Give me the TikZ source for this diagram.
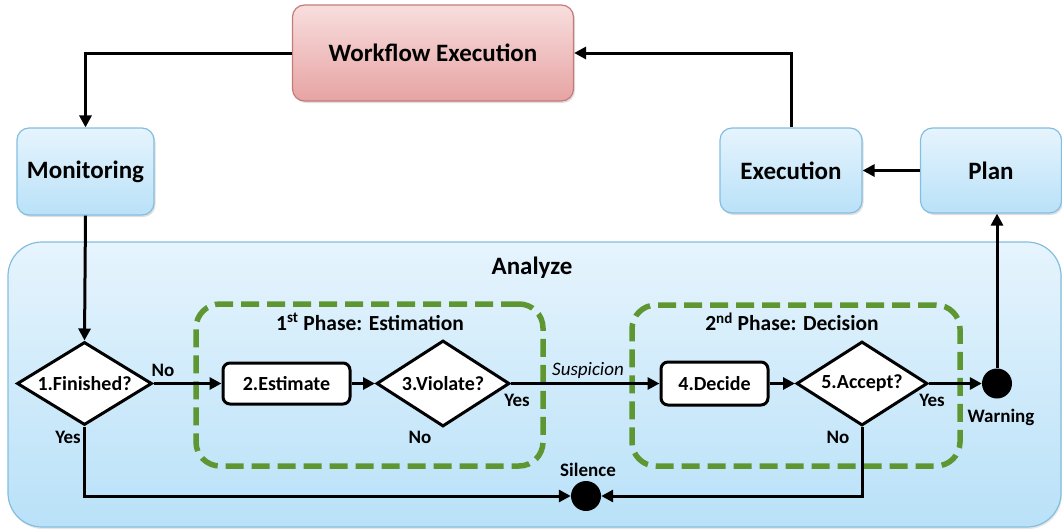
\documentclass[tikz,border=0pt]{standalone}
\usepackage{fontspec}
\setmainfont{Carlito}
\usetikzlibrary{arrows.meta,shapes.geometric,shadows}
\definecolor{bluetop}{HTML}{E6F4FD}
\definecolor{bluebot}{HTML}{B9E1F8}
\definecolor{blueline}{HTML}{84BEDF}
\definecolor{pinktop}{HTML}{F8DEDE}
\definecolor{pinkbot}{HTML}{E7A3A3}
\definecolor{pinkline}{HTML}{C67A7A}
\definecolor{phasegreen}{HTML}{5E9732}
\begin{document}
\begin{tikzpicture}[x=1pt,y=-1pt,
  bigfont/.style={font=\fontsize{25}{30}\selectfont\bfseries},
  bluebox/.style={rectangle, rounded corners=12pt, draw=blueline, line width=1.2pt,
    top color=bluetop, bottom color=bluebot, bigfont,
    drop shadow={opacity=0.25, shadow xshift=1.5pt, shadow yshift=-2pt}},
  pinkbox/.style={rectangle, rounded corners=12pt, draw=pinkline, line width=1.2pt,
    top color=pinktop, bottom color=pinkbot, bigfont,
    drop shadow={opacity=0.25, shadow xshift=1.5pt, shadow yshift=-2pt}},
  areabox/.style={rectangle, rounded corners=34pt, draw=blueline, line width=1.2pt,
    top color=bluetop, bottom color=bluebot,
    drop shadow={opacity=0.2, shadow xshift=1pt, shadow yshift=-2pt}},
  phasebox/.style={rectangle, rounded corners=24pt, draw=phasegreen, line width=5.5pt,
    dash pattern=on 18pt off 8pt},
  stepbox/.style={rectangle, rounded corners=7pt, draw=black, fill=white, line width=3pt,
    inner sep=0pt, font=\fontsize{20}{24}\selectfont\bfseries},
  decision/.style={diamond, draw=black, fill=white, line width=3pt, inner sep=0pt,
    aspect=1.65, font=\fontsize{20}{24}\selectfont\bfseries},
  dot/.style={circle, fill=black, inner sep=0pt, minimum size=30pt},
  lbl/.style={font=\fontsize{19}{23}\selectfont\bfseries, inner sep=0pt},
  titlelbl/.style={font=\fontsize{21.5}{26}\selectfont\bfseries, inner sep=0pt},
  conn/.style={line width=3pt, -{Triangle[length=12pt,width=12pt]}},
]
\useasboundingbox (0,0) rectangle (1062,530);

% big analyze area
\node[areabox, minimum width=1053pt, minimum height=285pt] (an) at (534.5,384.5) {};
\node[bigfont, inner sep=0pt] (anl) at (532,268) {Analyze};

% top nodes
\node[pinkbox, minimum width=281pt, minimum height=96pt] (wf) at (433,53) {Workflow Execution};
\node[bluebox, minimum width=137pt, minimum height=87pt] (mon) at (85.5,171.5) {Monitoring};
\node[bluebox, minimum width=142pt, minimum height=85pt] (exe) at (791,170.5) {Execution};
\node[bluebox, minimum width=141pt, minimum height=85pt] (plan) at (991,170.5) {Plan};

% phase boxes
\node[phasebox, minimum width=347pt, minimum height=162pt] (p1) at (369.5,385) {};
\node[phasebox, minimum width=328pt, minimum height=161pt] (p2) at (796,385.5) {};
\node[titlelbl] (p1t) at (370,322) {1\textsuperscript{st} Phase: Estimation};
\node[titlelbl] (p2t) at (792,322) {2\textsuperscript{nd} Phase: Decision};

% flow nodes
\node[decision, minimum width=135pt, minimum height=83pt] (fin) at (84.5,383.5) {1.Finished?};
\node[stepbox, minimum width=127pt, minimum height=41pt] (est) at (286.5,383.5) {2.Estimate};
\node[decision, minimum width=133pt, minimum height=86pt] (vio) at (443,383.5) {3.Violate?};
\node[stepbox, minimum width=107pt, minimum height=43pt] (dec) at (714.5,383.5) {4.Decide};
\node[decision, minimum width=131pt, minimum height=84pt] (acc) at (862,383.5) {5.Accept?};
\node[dot] (warn) at (997,383.5) {};
\node[dot] (sil) at (586,496) {};

% labels
\node[lbl] (l1) at (163,370) {No};
\node[lbl] (l2) at (68,437) {Yes};
\node[lbl] (l3) at (517,400) {Yes};
\node[lbl] (l4) at (420,437) {No};
\node[lbl] (l5) at (932,400) {Yes};
\node[lbl] (l6) at (838,437) {No};
\node[lbl] (l7) at (1001,417) {Warning};
\node[lbl] (l8) at (588,470) {Silence};
\node[font=\fontsize{19}{23}\selectfont\itshape, inner sep=0pt] (l9) at (588,370) {Suspicion};

% connectors
\draw[conn] (wf.west) -| (mon.north);
\draw[conn] (mon.south) -- (fin.north);
\draw[conn] (fin.east) -- (est.west);
\draw[conn] (est.east) -- (vio.west);
\draw[conn] (vio.east) -- (dec.west);
\draw[conn] (dec.east) -- (acc.west);
\draw[conn] (acc.east) -- (warn.west);
\draw[conn] (warn.north) -- (warn |- plan.south);
\draw[conn] (plan.west) -- (exe.east);
\draw[conn] (exe.north) |- (wf.east);
\draw[conn] (fin.south) |- (sil.west);
\draw[conn] (acc.south) |- (sil.east);
\end{tikzpicture}
\end{document}
